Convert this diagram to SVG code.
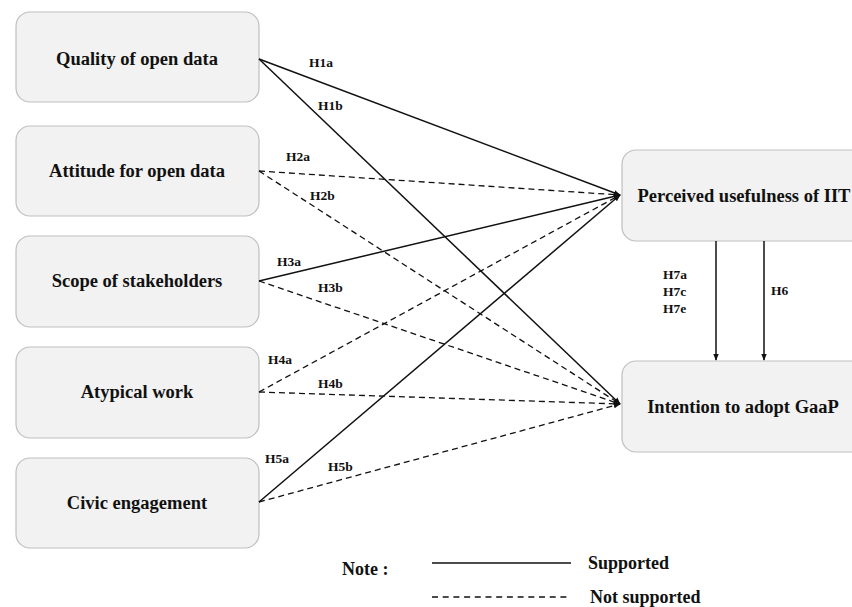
<svg xmlns="http://www.w3.org/2000/svg" width="852" height="607" viewBox="0 0 852 607">
<style>
.box{fill:#f2f2f2;stroke:#bfbfbf;stroke-width:1.2}
text{font-family:'Liberation Serif','Times New Roman',Tinos,serif;font-weight:bold;fill:#111}
.nt{font-size:18.5px;text-anchor:middle}
.lb{font-size:13.5px}
.lg{font-size:18px}
.s{stroke:#111;stroke-width:1.5;fill:none}
.d{stroke:#111;stroke-width:1.3;fill:none;stroke-dasharray:6,4}
</style>
<defs>
<marker id="ah" viewBox="0 0 10 10" refX="9" refY="5" markerWidth="7" markerHeight="7" orient="auto" markerUnits="userSpaceOnUse"><path d="M0,1 L10,5 L0,9 z" fill="#111"/></marker>
</defs>
<rect width="852" height="607" fill="#fff"/>
<g id="n1"><rect class="box" x="16" y="12" width="243" height="90" rx="14"/><text class="nt" x="137" y="65">Quality of open data</text></g>
<g id="n2"><rect class="box" x="16" y="126" width="243" height="90" rx="14"/><text class="nt" x="137" y="177">Attitude for open data</text></g>
<g id="n3"><rect class="box" x="16" y="236" width="243" height="91" rx="14"/><text class="nt" x="137" y="287">Scope of stakeholders</text></g>
<g id="n4"><rect class="box" x="16" y="347" width="243" height="91" rx="14"/><text class="nt" x="137" y="398">Atypical work</text></g>
<g id="n5"><rect class="box" x="16" y="458" width="243" height="90" rx="14"/><text class="nt" x="137" y="509">Civic engagement</text></g>
<g id="n6"><rect class="box" x="622" y="150" width="250" height="91" rx="14"/><text class="nt" x="744" y="202">Perceived usefulness of IIT</text></g>
<g id="n7"><rect class="box" x="622" y="361" width="250" height="91" rx="14"/><text class="nt" x="743" y="413">Intention to adopt GaaP</text></g>
<g id="connectors">
<line class="s" x1="259" y1="59" x2="620" y2="195" marker-end="url(#ah)"/>
<line class="s" x1="259" y1="59" x2="620" y2="404" marker-end="url(#ah)"/>
<line class="d" x1="259" y1="171" x2="620" y2="195" marker-end="url(#ah)"/>
<line class="d" x1="259" y1="171" x2="620" y2="404" marker-end="url(#ah)"/>
<line class="s" x1="259" y1="281" x2="620" y2="195" marker-end="url(#ah)"/>
<line class="d" x1="259" y1="281" x2="620" y2="404" marker-end="url(#ah)"/>
<line class="d" x1="259" y1="392" x2="620" y2="195" marker-end="url(#ah)"/>
<line class="d" x1="259" y1="392" x2="620" y2="404" marker-end="url(#ah)"/>
<line class="s" x1="259" y1="502" x2="620" y2="195" marker-end="url(#ah)"/>
<line class="d" x1="259" y1="502" x2="620" y2="404" marker-end="url(#ah)"/>
<line class="s" x1="716" y1="241" x2="716" y2="360" marker-end="url(#ah)"/>
<line class="s" x1="764" y1="241" x2="764" y2="360" marker-end="url(#ah)"/>
</g>
<g id="labels">
<text class="lb" x="309" y="67">H1a</text>
<text class="lb" x="318" y="110">H1b</text>
<text class="lb" x="286" y="161">H2a</text>
<text class="lb" x="310" y="200">H2b</text>
<text class="lb" x="277" y="266">H3a</text>
<text class="lb" x="318" y="292">H3b</text>
<text class="lb" x="268" y="364">H4a</text>
<text class="lb" x="318" y="388">H4b</text>
<text class="lb" x="265" y="463">H5a</text>
<text class="lb" x="328" y="471">H5b</text>
<text class="lb" x="663" y="279">H7a</text>
<text class="lb" x="663" y="296">H7c</text>
<text class="lb" x="663" y="313">H7e</text>
<text class="lb" x="771" y="295">H6</text>
</g>
<g id="legend">
<text class="lg" x="342" y="575">Note :</text>
<line class="s" x1="432" y1="563" x2="571" y2="563"/>
<text class="lg" x="588" y="569">Supported</text>
<line class="d" x1="432" y1="597" x2="571" y2="597" style="stroke-dasharray:6,4.7"/>
<text class="lg" x="590" y="603">Not supported</text>
</g>
</svg>
